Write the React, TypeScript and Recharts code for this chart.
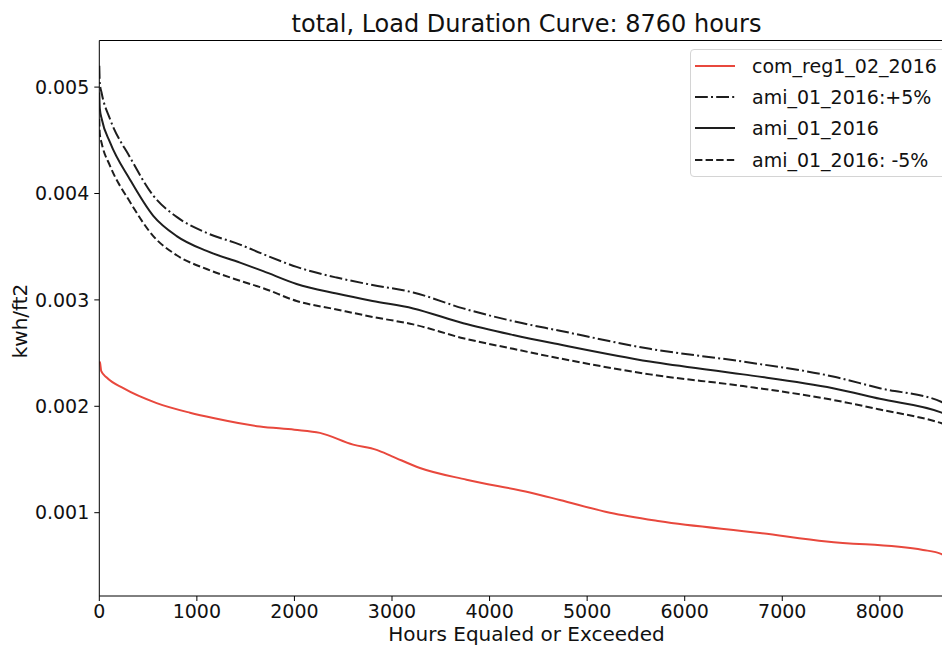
import React from 'react';
import { LineChart, Line, XAxis, YAxis, Legend, ReferenceLine } from 'recharts';

// Hours (x) for the ami_01_2016 family of curves
const amiHours = [0, 5, 25, 110, 315, 553, 793, 1100, 1442, 1680, 2022, 2432, 2800, 3217, 3730, 4242, 4720, 5643, 6598, 7520, 8000, 8634, 8760];
const amiBase = [0.00495, 0.0048, 0.0047, 0.00448, 0.00413, 0.00379, 0.0036, 0.00346, 0.00335, 0.00327, 0.00315, 0.00306, 0.00299, 0.00292, 0.00278, 0.00267, 0.00258, 0.00242, 0.0023, 0.00217, 0.00207, 0.00194, 0.00189];
const amiPlus5 = [0.0052, 0.00504, 0.00494, 0.0047, 0.00434, 0.00398, 0.00378, 0.00363, 0.00352, 0.00343, 0.00331, 0.00321, 0.00314, 0.00307, 0.00292, 0.0028, 0.00271, 0.00254, 0.00242, 0.00228, 0.00217, 0.00204, 0.00198];
const amiMinus5 = [0.0047, 0.00456, 0.00447, 0.00426, 0.00392, 0.0036, 0.00342, 0.00329, 0.00318, 0.00311, 0.00299, 0.00291, 0.00284, 0.00277, 0.00264, 0.00254, 0.00245, 0.0023, 0.00219, 0.00206, 0.00197, 0.00184, 0.0018];

// com_reg1_02_2016
const comHours = [0, 7, 20, 76, 246, 588, 929, 1168, 1646, 2000, 2261, 2602, 2842, 3000, 3286, 3764, 4413, 4720, 5233, 5745, 6770, 7453, 8443, 8634, 8720, 8760];
const comValues = [0.00242, 0.00241, 0.00233, 0.00227, 0.00217, 0.00203, 0.00194, 0.00189, 0.00181, 0.00178, 0.00175, 0.00164, 0.00159, 0.00153, 0.00142, 0.00131, 0.00119, 0.00112, 0.001, 0.00092, 0.00081, 0.00073, 0.00065, 0.00061, 0.00056, 0.00045];

const xTicks = [0, 1000, 2000, 3000, 4000, 5000, 6000, 7000, 8000];
const yTicks = [0.001, 0.002, 0.003, 0.004, 0.005];
const xDomain = [0, 8760];
const yDomain = [0.000217, 0.005438];

const titleText = 'total, Load Duration Curve: 8760 hours';
const xLabelText = 'Hours Equaled or Exceeded';
const yLabelText = 'kwh/ft2';

const toRows = (xs: number[], ys: number[]) => xs.map((h, i) => ({ h, v: ys[i] }));

const RED = '#e8483d';
const BLK = '#1e1e1e';
const FONT = '"DejaVu Sans", Verdana, sans-serif';

const series = [
  { name: 'com_reg1_02_2016', data: toRows(comHours, comValues), color: RED, dash: undefined as string | undefined },
  { name: 'ami_01_2016:+5%', data: toRows(amiHours, amiPlus5), color: BLK, dash: '12.8 3.2 2 3.2' },
  { name: 'ami_01_2016', data: toRows(amiHours, amiBase), color: BLK, dash: undefined },
  { name: 'ami_01_2016: -5%', data: toRows(amiHours, amiMinus5), color: BLK, dash: '7.4 3.2' },
];

const renderLegend = () => (
  <div
    style={{
      boxSizing: 'border-box',
      width: 256,
      height: 128,
      border: '1px solid #d4d4d4',
      borderRadius: 4,
      background: 'rgba(255,255,255,0.8)',
      paddingTop: 0,
      fontFamily: FONT,
    }}
  >
    {series.map((s) => (
      <div key={s.name} style={{ display: 'flex', alignItems: 'center', height: 31.3 }}>
        <svg width={60} height={20} style={{ flex: 'none' }}>
          <line x1={4} x2={44} y1={10} y2={10} stroke={s.color} strokeWidth={2} strokeDasharray={s.dash} />
        </svg>
        <span style={{ fontSize: 19, color: '#111', whiteSpace: 'nowrap', marginLeft: 1 }}>{s.name}</span>
      </div>
    ))}
  </div>
);

export default function App() {
  return (
    <div
      style={{
        position: 'absolute',
        left: 0,
        top: 0,
        width: 942,
        height: 646,
        overflow: 'hidden',
        background: '#fff',
        fontFamily: FONT,
      }}
    >
      <LineChart width={962} height={646} margin={{ top: 40.5, right: 8, bottom: 0, left: 0 }}>
        <XAxis
          type="number"
          dataKey="h"
          domain={xDomain}
          ticks={xTicks}
          allowDataOverflow
          height={50}
          tickSize={5}
          tickMargin={4}
          stroke="#000"
          tick={{ fontSize: 19, fill: '#111', fontFamily: FONT }}
          interval={0}
        />
        <YAxis
          type="number"
          domain={yDomain}
          ticks={yTicks}
          allowDataOverflow
          width={99.3}
          tickSize={5}
          tickMargin={5}
          stroke="#000"
          tickFormatter={(v: number) => v.toFixed(3)}
          tick={{ fontSize: 19, fill: '#111', fontFamily: FONT }}
          interval={0}
        />
        <ReferenceLine y={yDomain[1]} stroke="#000" strokeWidth={1} ifOverflow="visible" />
        {series.map((s) => (
          <Line
            key={s.name}
            data={s.data}
            dataKey="v"
            name={s.name}
            type="monotone"
            stroke={s.color}
            strokeWidth={2}
            strokeDasharray={s.dash}
            dot={false}
            activeDot={false}
            isAnimationActive={false}
          />
        ))}
        <Legend
          layout="vertical"
          align="center"
          verticalAlign="middle"
          content={renderLegend}
          wrapperStyle={{ left: 690, top: 49, width: 256, height: 128 }}
        />
      </LineChart>
      <svg
        width={942}
        height={646}
        style={{ position: 'absolute', left: 0, top: 0, pointerEvents: 'none' }}
      >
        <text x={526.5} y={32} textAnchor="middle" fontSize={24} fill="#111" fontFamily={FONT}>
          {titleText}
        </text>
        <text x={526.5} y={641} textAnchor="middle" fontSize={20} fill="#111" fontFamily={FONT}>
          {xLabelText}
        </text>
        <text
          x={0}
          y={0}
          transform="translate(27,321) rotate(-90)"
          textAnchor="middle"
          fontSize={20}
          fill="#111"
          fontFamily={FONT}
        >
          {yLabelText}
        </text>
      </svg>
    </div>
  );
}
